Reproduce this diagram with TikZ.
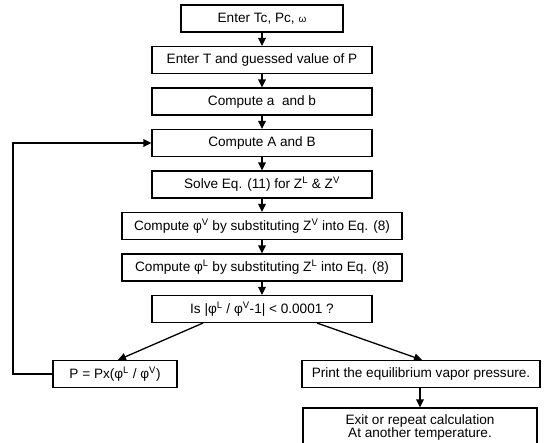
\documentclass[tikz,border=0pt]{standalone}
\usepackage{fontspec}
\setmainfont{Liberation Sans}
\usetikzlibrary{arrows.meta}

\begin{document}
\begin{tikzpicture}[x=1pt,y=-1pt,
  box/.style={draw,line width=1.1pt,minimum height=27pt,inner sep=2pt,
    font=\fontsize{13.6}{13}\selectfont},
  arr/.style={-{Triangle[length=8pt,width=7.5pt]},line width=1.3pt}]
\useasboundingbox (0,0) rectangle (546,443);
\node[box,minimum width=162pt](tc) at (262,18.5){Enter Tc, Pc, {\fontsize{10}{10}\selectfont ω}};
\node[box,minimum width=220pt](tp) at (262,60){Enter T and guessed value of P};
\node[box,minimum width=220pt](ab) at (262,101.5){Compute a\ \ and b};
\node[box,minimum width=220pt](AB) at (262,143){Compute A and B};
\node[box,minimum width=220pt](z) at (262,184.5){Solve Eq. (11) for Z\textsuperscript{L} \& Z\textsuperscript{V}};
\node[box,minimum width=280pt](fv) at (262,226){Compute φ\textsuperscript{V} by substituting Z\textsuperscript{V} into Eq. (8)};
\node[box,minimum width=280pt](fl) at (262,267.5){Compute φ\textsuperscript{L} by substituting Z\textsuperscript{L} into Eq. (8)};
\node[box,minimum width=220pt](ck) at (262,309){Is |φ\textsuperscript{L} / φ\textsuperscript{V}-1| < 0.0001 ?};
\node[box,minimum width=124pt](np) at (115,374){P = Px(φ\textsuperscript{L} / φ\textsuperscript{V})};
\node[box,minimum width=238pt](pr) at (421,374){Print the equilibrium vapor pressure.};
\node[box,minimum width=234pt,minimum height=38pt,align=center](ex) at (420,427){Exit or repeat calculation\\At another temperature.};
\coordinate (lt) at (13,143);
\coordinate (lb) at (13,374);
\draw[arr] (tc) -- (tp);
\draw[arr] (tp) -- (ab);
\draw[arr] (ab) -- (AB);
\draw[arr] (AB) -- (z);
\draw[arr] (z) -- (fv);
\draw[arr] (fv) -- (fl);
\draw[arr] (fl) -- (ck);
\draw[arr] ([xshift=-59pt]ck.south) -- ([xshift=3pt]np.north);
\draw[arr] ([xshift=55pt]ck.south) -- ([xshift=1pt]pr.north);
\draw[arr] ([xshift=-1pt]pr.south) -- (ex);
\draw[arr] (np.west) -- (lb) -- (lt) -- (AB.west);
\end{tikzpicture}
\end{document}
